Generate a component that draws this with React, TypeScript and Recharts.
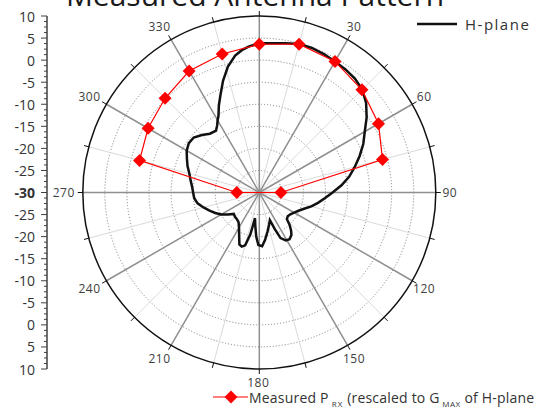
import {
  RadarChart,
  Radar,
  PolarGrid,
  PolarAngleAxis,
  PolarRadiusAxis,
  LineChart,
  Line,
  XAxis,
  YAxis,
} from 'recharts'

const FONT = '"Open Sans", "DejaVu Sans", sans-serif'

// H-plane cut: gain in dB against azimuth (degrees, clockwise from boresight)
const hAngles = [
  0, 5, 10, 15, 20, 25, 30, 35, 40, 45, 50, 55, 60, 65, 70, 75, 80, 85, 90, 95, 100, 105, 110, 115,
  120, 125, 130, 134, 137, 140, 143, 147, 151, 155, 157, 159, 163, 168, 173, 177, 181, 184, 187,
  189.5, 192, 195, 198, 201, 205, 210, 215, 220, 225, 230, 235, 240, 245, 250, 255, 260, 265, 270,
  275, 280, 285, 290, 295, 300, 305, 310, 315, 320, 325, 328, 330, 332, 335, 338, 342, 346, 350,
  353, 356,
]
const hValues = [
  3.8, 3.95, 4.35, 4.85, 4.85, 4.6, 4.3, 4.05, 3.7, 3.0, 1.6, -0.3, -2.4, -4.0, -5.8, -7.6, -9.3,
  -11.3, -13.4, -15.1, -16.5, -17.8, -19.2, -20.2, -20.9, -21.4, -21.6, -21.3, -19.9, -18.8, -17.9,
  -17.4, -17.6, -18.6, -21.0, -23.3, -22.4, -21.0, -19.2, -17.8, -18.1, -20.0, -22.5, -24.1, -20.3,
  -17.6, -17.1, -17.4, -19.2, -20.8, -21.8, -22.1, -22.2, -22.45, -21.3, -20.0, -19.0, -18.0, -16.9,
  -15.8, -15.2, -15.0, -14.7, -14.2, -13.6, -12.7, -11.9, -11.0, -10.5, -10.6, -11.6, -12.6, -12.9,
  -12.0, -11.1, -10.3, -8.3, -6.4, -3.4, -0.6, 1.5, 2.5, 3.2,
]

// measured received power over the front half, 15 degree steps (drawn in this order)
const mAngles = [0, 15, 30, 45, 60, 75, 90, 270, 285, 300, 315, 330, 345]
const mValues = [3.6, 4.8, 4.3, 2.9, 1.2, -1.1, -25.1, -24.9, -1.9, -0.9, 0.2, 1.8, 2.5]

const angleTicks = [
  0, 15, 30, 45, 60, 75, 90, 105, 120, 135, 150, 165, 180, 195, 210, 225, 240, 255, 270, 285, 300,
  315, 330, 345,
]
const majorSpokes = [0, 30, 60, 90, 120, 150, 180, 210, 240, 270, 300, 330]
const minorSpokes = [15, 45, 75, 105, 135, 165, 195, 225, 255, 285, 315, 345]
const majorRings = [-25, -20, -15, -10, -5, 0, 5]
const minorRings = [-27.5, -22.5, -17.5, -12.5, -7.5, -2.5, 2.5, 7.5]

// side scale: distance from centre in dB, mirrored above/below
const scaleTicks = Array.from({ length: 65 }, (_, i) => -40 + i * 1.25)

const CX = 259.3
const CY = 192.5
const R = 176.5
const NO_MARGIN = { top: 0, right: 0, bottom: 0, left: 0 }

const hData = hAngles.map((angle, i) => ({ angle, gain: hValues[i] }))
const mData = mAngles.map((angle, i) => ({ angle, power: mValues[i] }))

function AngleTick({ payload }: any) {
  const v = payload.value
  if (v % 30 !== 0 || v === 0) return <g />
  const rad = (v * Math.PI) / 180
  const s = Math.sin(rad)
  const c = Math.cos(rad)
  const x = CX + (R + 15) * s - (s < -0.01 ? 4 : 1)
  const y = CY - (R + 15) * c - (v === 180 ? 2 : 0)
  return (
    <text
      x={x}
      y={y}
      textAnchor="middle"
      dominantBaseline="central"
      fontSize={12}
      fontFamily={FONT}
      fill="#404040"
      letterSpacing={0.5}
    >
      {v}
    </text>
  )
}

function Diamond(props: any) {
  const { cx, cy } = props
  const h = 6.5
  return (
    <path
      key={props.key}
      d={`M${cx},${cy - h}L${cx + h},${cy}L${cx},${cy + h}L${cx - h},${cy}Z`}
      fill="#ff0000"
      stroke="none"
    />
  )
}

function ScaleTick({ x, y, payload }: any) {
  const v = payload.value
  const major = Math.abs(v % 5) < 1e-6
  const label = Math.abs(v) - 30
  return (
    <g>
      <line x1={x - (major ? 6 : 3)} x2={x} y1={y} y2={y} stroke="#404040" strokeWidth={1} />
      {major && (
        <text
          x={x - 12}
          y={y}
          textAnchor="end"
          dominantBaseline="central"
          fontSize={14}
          fontFamily={FONT}
          fontWeight={v === 0 ? 700 : 400}
          fill="#333"
        >
          {label}
        </text>
      )}
    </g>
  )
}

const layer = { position: 'absolute' as const, left: 0, top: 0 }

export default function App() {
  return (
    <div
      style={{
        ...layer,
        width: 539,
        height: 409,
        background: '#fff',
        overflow: 'hidden',
        fontFamily: FONT,
      }}
    >
      {/* grid, outer ring, angle labels and the H-plane trace */}
      <div style={layer}>
        <RadarChart width={539} height={409} data={hData} cx={CX} cy={CY} outerRadius={R} margin={NO_MARGIN}>
          <PolarRadiusAxis
            radiusAxisId="minor"
            type="number"
            domain={[-30, 10]}
            ticks={minorRings}
            tick={false}
            axisLine={false}
          />
          <PolarRadiusAxis type="number" domain={[-30, 10]} ticks={majorRings} tick={false} axisLine={false} />
          <PolarGrid radiusAxisId="minor" gridType="circle" radialLines={false} stroke="#e3e3e3" strokeWidth={1} />
          <PolarGrid
            gridType="circle"
            radialLines={false}
            stroke="#7a7a7a"
            strokeWidth={1}
            strokeDasharray="1 2"
          />
          <PolarGrid gridType="circle" polarRadius={[0]} polarAngles={minorSpokes} stroke="#dadada" strokeWidth={1} />
          <PolarGrid gridType="circle" polarRadius={[0]} polarAngles={majorSpokes} stroke="#8f8f8f" strokeWidth={1.5} />
          <PolarAngleAxis
            dataKey="angle"
            type="number"
            domain={[0, 360]}
            ticks={angleTicks}
            axisLineType="circle"
            axisLine={{ stroke: '#111', strokeWidth: 1.5 }}
            tickLine={{ stroke: '#111', strokeWidth: 1 }}
            orient="inner"
            tickSize={5}
            tick={AngleTick}
          />
          <Radar
            dataKey="gain"
            stroke="#111"
            strokeWidth={2.5}
            fill="none"
            fillOpacity={0}
            dot={false}
            isAnimationActive={false}
          />
        </RadarChart>
      </div>

      {/* measured points on the same polar scale */}
      <div style={layer}>
        <RadarChart width={539} height={409} data={mData} cx={CX} cy={CY} outerRadius={R} margin={NO_MARGIN}>
          <PolarRadiusAxis type="number" domain={[-30, 10]} tick={false} axisLine={false} />
          <PolarAngleAxis
            dataKey="angle"
            type="number"
            domain={[0, 360]}
            ticks={angleTicks}
            axisLine={false}
            tickLine={false}
            tick={false}
          />
          <Radar
            dataKey="power"
            stroke="#ff0000"
            strokeWidth={1.2}
            fill="none"
            fillOpacity={0}
            dot={Diamond}
            isAnimationActive={false}
          />
        </RadarChart>
      </div>

      <div style={layer}>
        <LineChart width={60} height={409} data={[{ x: 0, v: 0 }]} margin={{ top: 16, right: 0, bottom: 40, left: 0 }}>
          <XAxis dataKey="x" hide />
          <YAxis
            type="number"
            width={47}
            domain={[-40, 40]}
            ticks={scaleTicks}
            interval={0}
            tickSize={0}
            tickMargin={0}
            tickLine={false}
            axisLine={{ stroke: '#404040', strokeWidth: 1.5 }}
            tick={ScaleTick}
          />
          <Line dataKey="v" stroke="none" dot={false} isAnimationActive={false} />
        </LineChart>
      </div>

      <svg width={539} height={409} style={{ ...layer, pointerEvents: 'none' }}>
        <text x={255} y={6} textAnchor="middle" fontSize={30} fontFamily={FONT} fill="#1a1a1a">
          Measured Antenna Pattern
        </text>

        <line x1={417} x2={457} y1={24} y2={24} stroke="#111" strokeWidth={2.5} />
        <text x={465} y={30} fontSize={15} fontFamily={FONT} fill="#333" letterSpacing={1.5}>
          H-plane
        </text>

        <line x1={213} x2={248} y1={397} y2={397} stroke="#ff0000" strokeWidth={1.2} />
        <path d="M231,390.5L237.5,397L231,403.5L224.5,397Z" fill="#ff0000" />
        <text x={249} y={402.5} fontSize={14} fontFamily={FONT} fill="#333" letterSpacing={0.2}>
          Measured P
          <tspan fontSize={8} dy={4} letterSpacing={1}> RX</tspan>
          <tspan dy={-4}> (rescaled to G</tspan>
          <tspan fontSize={8} dy={4} letterSpacing={0.5}> MAX</tspan>
          <tspan dy={-4}> of H-plane</tspan>
        </text>
      </svg>
    </div>
  )
}
